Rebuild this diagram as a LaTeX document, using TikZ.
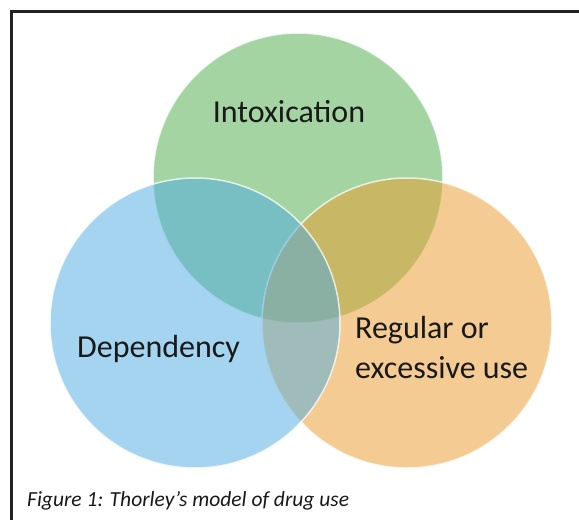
\documentclass[tikz,border=0pt]{standalone}
\usepackage{fontspec}
\setmainfont{Carlito}
\usepackage{tikz}
\usetikzlibrary{positioning}
\definecolor{intoxgreen}{RGB}{77,171,73}
\definecolor{usageorange}{RGB}{235,155,41}
\definecolor{depblue}{RGB}{75,171,225}
\definecolor{framegray}{HTML}{222222}

\begin{document}
\begin{tikzpicture}[
  x=1pt,y=-1pt,
  venn/.style={circle,minimum size=290pt,inner sep=0pt,fill opacity=0.5,draw=white,draw opacity=0.75,line width=1.5pt},
  lbl/.style={inner sep=0pt,text=black!90,font=\fontsize{32}{40}\selectfont},
  captiontext/.style={inner sep=0pt,text=black!90,font=\itshape\fontsize{21.5}{26}\selectfont}
]
  \useasboundingbox (0,0) rectangle (579,520);
  \fill[white] (0,0) rectangle (579,520);
  \draw[framegray,line width=3pt] (11,11) rectangle (640,580);

  % the three sets, back to front
  \node[venn,fill=intoxgreen] (intox) at (298,178) {};
  \node[venn,fill=usageorange] (usage) at (407,323) {};
  \node[venn,fill=depblue] (dep) at (195,323) {};

  \node[lbl,anchor=base] (intoxlbl) at (289,122) {Intoxication};
  \node[lbl,anchor=base west] (deplbl) at (77,357) {Dependency};
  \node[lbl,anchor=base west] (usagelbl) at (355,338) {Regular or};
  \node[lbl,anchor=base west] (usagelbl2) at (355,378) {excessive use};

  \node[captiontext,anchor=base west] (caption) at (27,506) {Figure 1: Thorley’s model of drug use};
\end{tikzpicture}
\end{document}
